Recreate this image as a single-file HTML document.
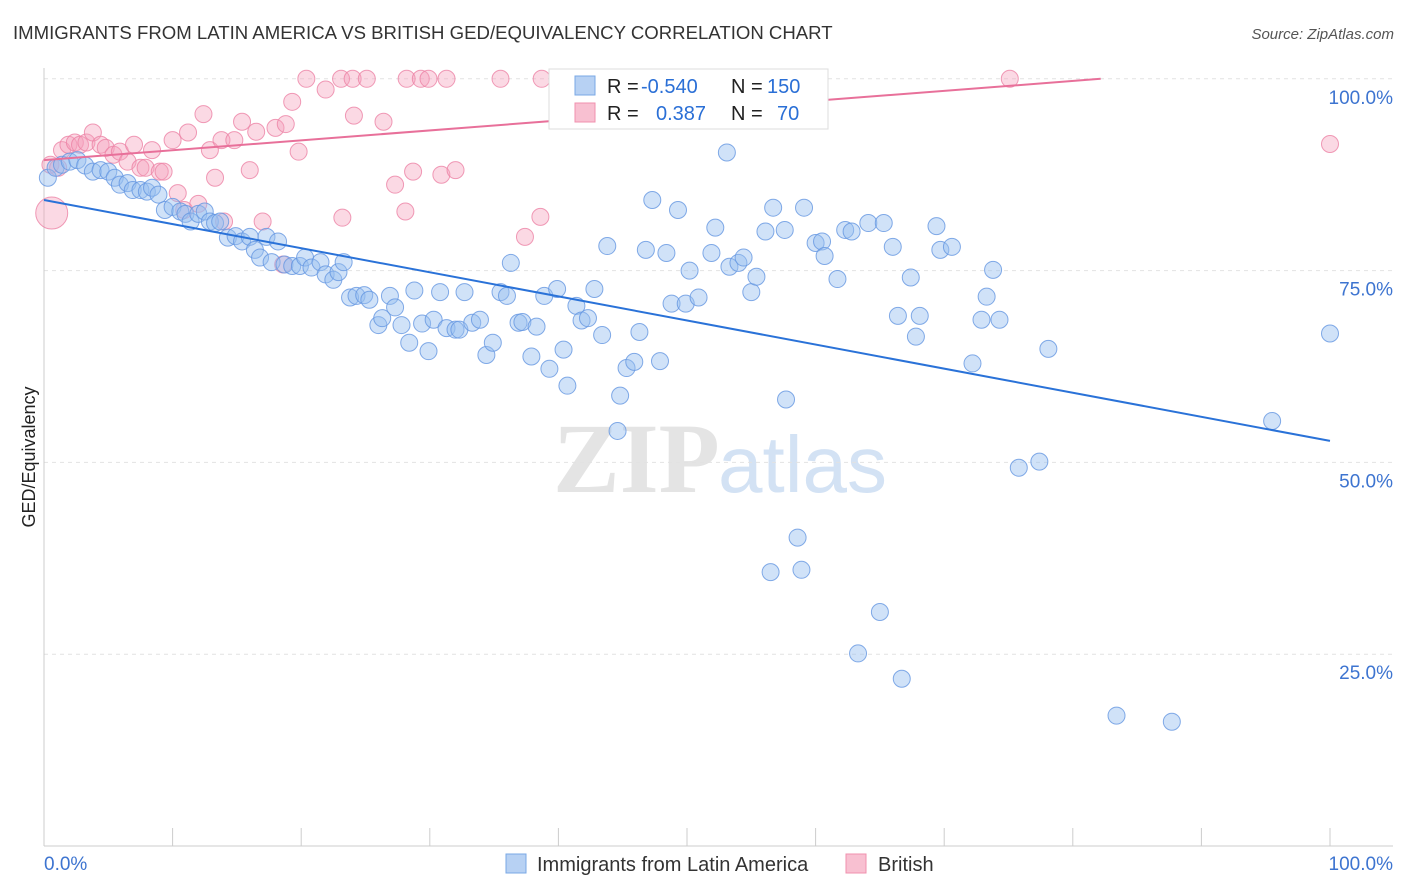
<!DOCTYPE html>
<html><head><meta charset="utf-8"><style>
body{margin:0;background:#fff;font-family:"Liberation Sans",sans-serif;}
svg{display:block}
</style></head><body>
<svg id="chart" width="1406" height="892">
<text x="13" y="39" font-size="18.6" fill="#333">IMMIGRANTS FROM LATIN AMERICA VS BRITISH GED/EQUIVALENCY CORRELATION CHART</text>
<text x="1394" y="39" font-size="15" fill="#555" font-style="italic" text-anchor="end">Source: ZipAtlas.com</text>
<text transform="translate(35,457) rotate(-90)" font-size="18" fill="#222" text-anchor="middle">GED/Equivalency</text>
<g>
<text x="553" y="492" font-size="100" font-family="Liberation Serif,serif" font-weight="bold" fill="#e4e4e4">ZIP</text>
<text x="718" y="492" font-size="80" fill="#d3e2f4">atlas</text>
</g>
<g id="grid"></g><g id="axes"></g><g id="pts"></g><g id="lines"></g>
<g>
<rect x="549" y="69" width="279" height="60" fill="#fff" stroke="#ddd"/>
<rect x="575" y="76" width="20" height="19" fill="#b7d1f3" stroke="#7aa8e6"/>
<rect x="575" y="103" width="20" height="19" fill="#f8c0d1" stroke="#f090ae"/>
<text x="607" y="93" font-size="20" fill="#222">R = <tspan x="641" fill="#2a6fd6">-0.540</tspan><tspan x="731">N = </tspan><tspan x="767" fill="#2a6fd6">150</tspan></text>
<text x="607" y="120" font-size="20" fill="#222">R = <tspan x="656" fill="#2a6fd6">0.387</tspan><tspan x="731">N = </tspan><tspan x="777" fill="#2a6fd6">70</tspan></text>
</g>
<g>
<rect x="506" y="854" width="20" height="19" fill="#b7d1f3" stroke="#7aa8e6"/>
<text x="537" y="871" font-size="20" fill="#333">Immigrants from Latin America</text>
<rect x="846" y="854" width="20" height="19" fill="#f8c0d1" stroke="#f090ae"/>
<text x="878" y="871" font-size="20" fill="#333">British</text>
</g>
</svg>
<script>
const blueX=[0.3,0.9,1.4,2.0,2.6,3.2,3.8,4.4,5.0,5.5,5.9,6.5,6.9,7.5,8.0,8.4,8.9,9.4,10.0,10.6,11.0,11.4,12.0,12.5,12.9,13.3,13.7,14.3,14.9,15.4,16.0,16.4,16.8,17.3,17.7,18.2,18.7,19.3,19.9,20.3,20.8,21.5,21.9,22.5,22.9,23.3,23.8,24.3,24.9,25.3,26.0,26.3,26.9,27.3,27.8,28.4,28.8,29.4,29.9,30.3,30.8,31.3,32.0,32.3,32.7,33.3,33.9,34.4,34.9,35.5,36.0,36.3,36.9,37.2,37.9,38.3,38.9,39.3,39.9,40.4,40.7,41.4,41.8,42.3,42.8,43.4,43.8,44.8,44.6,45.3,45.9,46.3,46.8,47.3,47.9,48.4,48.8,49.3,49.9,50.2,50.9,51.9,52.2,53.1,53.3,54.0,54.4,55.0,55.4,56.1,56.5,56.7,57.7,57.6,58.6,58.9,59.1,60.0,60.5,60.7,61.7,62.3,62.8,63.3,64.1,65.0,65.3,66.0,66.4,66.7,67.4,67.8,68.1,69.4,69.7,70.6,72.2,72.9,73.3,73.8,74.3,75.8,77.4,78.1,83.4,87.7,95.5,100];
const blueY=[87.1,88.4,88.8,89.2,89.4,88.7,87.9,88.1,87.9,87.1,86.2,86.4,85.5,85.5,85.3,85.8,84.9,82.9,83.3,82.7,82.4,81.4,82.4,82.7,81.4,81.2,81.4,79.3,79.5,78.8,79.4,77.7,76.7,79.4,76.1,78.8,75.8,75.6,75.6,76.7,75.4,76.1,74.5,73.8,74.8,76.1,71.5,71.7,71.8,71.2,67.9,68.8,71.7,70.2,67.9,65.6,72.4,68.1,64.5,68.6,72.2,67.5,67.3,67.3,72.2,68.2,68.6,64.0,65.6,72.2,71.7,76.0,68.2,68.3,63.8,67.7,71.7,62.2,72.6,64.7,60.0,70.4,68.5,68.8,72.6,66.6,78.2,58.7,54.1,62.3,63.1,67.0,77.7,84.2,63.2,77.3,70.7,82.9,70.7,75.0,71.5,77.3,80.6,90.4,75.5,76.0,76.7,72.2,74.2,80.1,35.7,83.2,58.2,80.3,40.2,36.0,83.2,78.6,78.8,76.9,73.9,80.3,80.1,25.1,81.2,30.5,81.2,78.1,69.1,21.8,74.1,66.4,69.1,80.8,77.7,78.1,62.9,68.6,71.6,75.1,68.6,49.3,50.1,64.8,17.0,16.2,55.4,66.8];
const pinkX=[0.6,0.5,1.1,1.4,1.9,2.4,2.8,3.3,3.8,4.4,4.8,5.4,5.9,6.5,7.0,7.5,7.9,8.4,9.0,9.3,10.0,10.4,10.9,11.2,12.0,12.4,12.9,13.3,13.8,14.0,14.8,15.4,16.0,16.5,17.0,18.0,18.6,18.8,19.3,19.8,20.4,21.9,23.1,23.2,24.0,24.1,25.1,26.4,27.3,28.1,28.2,28.7,29.3,29.9,30.9,31.3,32.0,35.5,37.4,38.6,38.7,40.7,47.3,48.5,52.0,75.1,100];
const pinkY=[82.5,88.8,88.4,90.7,91.4,91.7,91.4,91.7,93.0,91.4,91.0,90.1,90.5,89.2,91.4,88.4,88.4,90.7,87.9,87.9,92.0,85.1,82.9,93.0,83.7,95.4,90.7,87.1,92.0,81.4,92.0,94.4,88.1,93.1,81.4,93.6,75.8,94.1,97.0,90.5,100,98.6,100,81.9,100,95.2,100,94.4,86.2,82.7,100,87.9,100,100,87.5,100,88.1,100,79.4,82.0,100,100,100,100,100,100,91.5];
const blueLine=[84.2,52.8];
const pinkLine=[89.4,102.3];
const yTicks=[25,50,75,100];
const yTickLabels=["25.0%","50.0%","75.0%","100.0%"];
const xTicks=[0,10,20,30,40,50,60,70,80,90,100];

const X=v=>44+v*12.86, Y=v=>846-v*7.672;
const NS="http://www.w3.org/2000/svg";
function mk(tag,parent,attrs){const e=document.createElementNS(NS,tag);for(const k in attrs)e.setAttribute(k,attrs[k]);parent.appendChild(e);return e;}
const grid=document.getElementById('grid'),axes=document.getElementById('axes'),pts=document.getElementById('pts'),lines=document.getElementById('lines');
yTicks.forEach((t,i)=>{
 const l=mk('line',grid,{x1:44,x2:1393,y1:Y(t),y2:Y(t),stroke:'#e2e2e2','stroke-dasharray':'4,4'});
 
 
 const tx=mk('text',axes,{x:1393,y:Y(t)+25,'font-size':19,fill:'#3d74d0','text-anchor':'end'});
 tx.textContent=yTickLabels[i];
 
 
});
const ax=mk('line',axes,{x1:44,x2:1393,y1:846,y2:846,stroke:'#ccc'});


const ay=mk('line',axes,{x1:44,x2:44,y1:68,y2:846,stroke:'#ccc'});


xTicks.forEach(t=>{
 const l=mk('line',axes,{x1:X(t),x2:X(t),y1:828,y2:846,stroke:'#ccc'});
 
 
});
[[0,"0.0%","start",44],[100,"100.0%","end",1393]].forEach(d=>{
 const tx=mk('text',axes,{x:d[3],y:870,'font-size':19,fill:'#3d74d0','text-anchor':d[2]});
 tx.textContent=d[1];
 
 
});
pinkX.forEach((x,i)=>{
 const c=mk('circle',pts,{cx:X(x),cy:Y(pinkY[i]),r:i===0?16:8.5,fill:'rgba(245,160,188,0.4)',stroke:'rgba(236,130,165,0.8)','stroke-width':1});
 
 
});
blueX.forEach((x,i)=>{
 const c=mk('circle',pts,{cx:X(x),cy:Y(blueY[i]),r:8.5,fill:'rgba(150,190,240,0.45)',stroke:'rgba(100,150,225,0.8)','stroke-width':1});
 
 
});
const bl=mk('line',lines,{x1:X(0),y1:Y(blueLine[0]),x2:X(100),y2:Y(blueLine[1]),stroke:'#2a72d8','stroke-width':2});


const xe=(100-pinkLine[0])/(pinkLine[1]-pinkLine[0])*100;
const pl=mk('line',lines,{x1:X(0),y1:Y(pinkLine[0]),x2:X(xe),y2:Y(100),stroke:'#e8709a','stroke-width':2});


</script>
</body></html>
